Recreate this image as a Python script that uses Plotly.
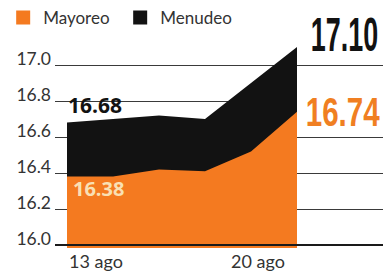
import plotly.graph_objects as go

# ---- data ----
dias = [0, 1, 2, 3, 4, 5]                       # consecutive price dates
mayoreo = [16.38, 16.38, 16.42, 16.41, 16.52, 16.74]
menudeo = [16.68, 16.70, 16.72, 16.70, 16.90, 17.10]
etiquetas_x = ["13 ago", "20 ago"]
y_ticks = [16.0, 16.2, 16.4, 16.6, 16.8, 17.0]
serie_nombres = ["Mayoreo", "Menudeo"]

NARANJA = "#F47A20"
NEGRO = "#121212"
GRIS = "#333333"
BODY = "Lato, 'Open Sans', sans-serif"
COND = "'Liberation Sans', Arial, sans-serif"

fig = go.Figure()

# areas (menudeo behind, mayoreo in front)
fig.add_trace(go.Scatter(x=dias, y=menudeo, mode="lines", fill="tozeroy",
                         fillcolor=NEGRO, line=dict(width=0, color=NEGRO),
                         showlegend=False, hoverinfo="skip"))
fig.add_trace(go.Scatter(x=dias, y=mayoreo, mode="lines", fill="tozeroy",
                         fillcolor=NARANJA, line=dict(width=0, color=NARANJA),
                         showlegend=False, hoverinfo="skip"))

# legend entries
for name, col in zip(serie_nombres, [NARANJA, NEGRO]):
    fig.add_trace(go.Scatter(x=[None], y=[None], mode="markers", name=name,
                             marker=dict(symbol="square", size=14, color=col)))

# value labels (big numbers are condensed via post_script)
fig.add_annotation(x=1, xref="paper", xanchor="right", xshift=-3,
                   y=17.17, yref="y", yanchor="middle",
                   text="<b>%.2f</b>" % menudeo[-1], showarrow=False,
                   font=dict(family=COND, size=48, color=NEGRO))
fig.add_annotation(x=1, xref="paper", xanchor="right", xshift=-1,
                   y=mayoreo[-1], yref="y", yanchor="middle",
                   text="<b>%.2f</b>" % mayoreo[-1], showarrow=False,
                   font=dict(family=COND, size=41, color="#F07F22"))
fig.add_annotation(x=dias[0], xref="x", xanchor="left", xshift=-1,
                   y=16.78, yref="y", yanchor="middle",
                   text="<b>%.2f</b>" % menudeo[0], showarrow=False,
                   font=dict(family="'Open Sans', sans-serif", size=21, color=NEGRO))
fig.add_annotation(x=dias[0], xref="x", xanchor="left", xshift=4,
                   y=16.315, yref="y", yanchor="middle",
                   text="<b>%.2f</b>" % mayoreo[0], showarrow=False,
                   font=dict(family="'Open Sans', sans-serif", size=20, color="#F9E0B4"))

# white gaps in the 16.8 gridline behind the labels
fig.add_shape(type="rect", xref="paper", yref="y", x0=0, x1=0.26, y0=16.77, y1=16.83,
              fillcolor="white", line=dict(width=0), layer="between")
fig.add_shape(type="rect", xref="x", yref="y", x0=dias[-1], x1=7, y0=16.77, y1=16.83,
              fillcolor="white", line=dict(width=0), layer="between")
# baseline
fig.add_shape(type="line", xref="paper", yref="y", x0=0, x1=1, y0=16.0, y1=16.0,
              line=dict(color="#1a1a1a", width=2.2), layer="above")

fig.update_layout(
    width=383, height=273,
    margin=dict(l=55, r=0, t=30, b=25, autoexpand=False),
    plot_bgcolor="white", paper_bgcolor="white",
    font=dict(family=BODY, size=17, color=GRIS),
    showlegend=True,
    legend=dict(orientation="h", x=-0.158, xanchor="left", y=1.055, yanchor="middle",
                font=dict(family=BODY, size=17, color=GRIS), itemwidth=30,
                bgcolor="rgba(0,0,0,0)", tracegroupgap=0, entrywidth=72),
    xaxis=dict(range=[-12 / 46, 5 + 86 / 46], showgrid=False, zeroline=False,
               tickmode="array", tickvals=[0.63, 4.15], ticktext=etiquetas_x,
               ticks="", ticklabelstandoff=1, tickfont=dict(size=18, color=GRIS)),
    yaxis=dict(range=[16 - 3 / 180, 17 + 35 / 180], showgrid=True, gridcolor="#3a3a3a",
               gridwidth=1.4, zeroline=False, tickmode="array", tickvals=y_ticks,
               ticktext=["%.1f" % v for v in y_ticks], ticks="",
               ticklabelstandoff=3, ticklabelshift=-6, tickfont=dict(size=17.5, color=GRIS)),
)

post = """
document.body.style.margin = '0';
var sx = {'17.10': 0.56, '16.74': 0.72};
document.querySelectorAll('.annotation-text').forEach(function(t){
  var k = t.textContent.trim();
  if (sx[k]) {
    t.style.transformBox = 'fill-box';
    t.style.transformOrigin = 'right center';
    t.style.transform = 'scaleX(' + sx[k] + ')';
  }
});
"""

fig.write_html("out.html", post_script=post, config={"displayModeBar": False})
